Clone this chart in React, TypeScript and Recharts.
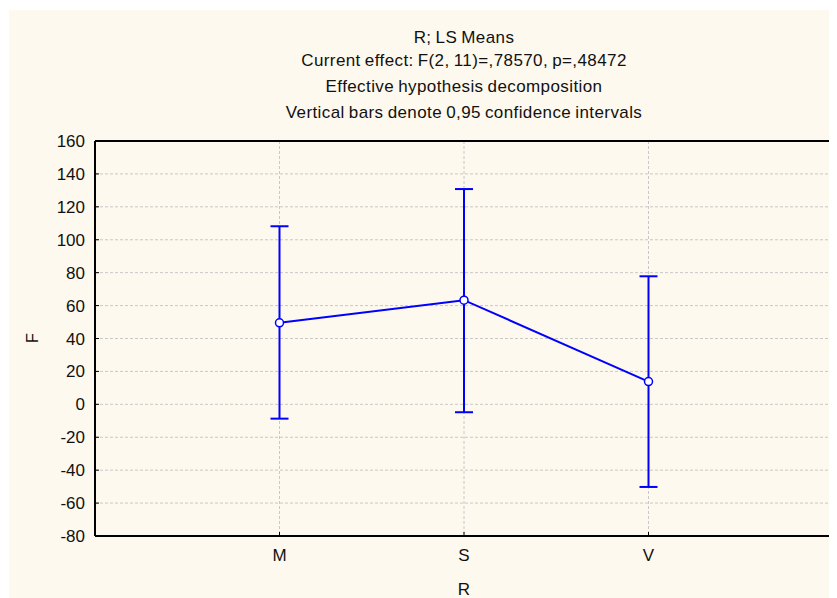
import React from 'react';
import { LineChart, Line, XAxis, YAxis, CartesianGrid, ErrorBar } from 'recharts';

const categories = ['M', 'S', 'V'];
const means = [49.5, 63.3, 13.8];
const upper = [108.2, 130.8, 77.8];
const lower = [-8.7, -4.8, -50.2];
const yTicks = [-80, -60, -40, -20, 0, 20, 40, 60, 80, 100, 120, 140, 160];
const titleLines = [
  'R; LS Means',
  'Current effect: F(2, 11)=,78570, p=,48472',
  'Effective hypothesis decomposition',
  'Vertical bars denote 0,95 confidence intervals',
];
const xTitle = 'R';
const yTitle = 'F';

const data = categories.map((c, i) => ({
  x: i + 1,
  name: c,
  mean: means[i],
  err: [means[i] - lower[i], upper[i] - means[i]],
}));

const FONT = '"Liberation Sans", Arial, sans-serif';
const BLUE = '#0000FF';
const titleCenters = [28, 51, 77, 103];

export default function App() {
  return (
    <div style={{ paddingTop: 2, paddingLeft: 1, height: 588 }}>
      <div
        style={{
          position: 'relative',
          width: 828,
          height: 588,
          background: '#FEF9EE',
          fontFamily: FONT,
        }}
      >
        <LineChart
          width={828}
          height={588}
          data={data}
          margin={{ top: 130, right: 3, bottom: 0, left: 0 }}
        >
          <CartesianGrid stroke="#c8c8c8" strokeDasharray="3 2" />
          <XAxis
            dataKey="x"
            type="number"
            domain={[0, 4]}
            ticks={[1, 2, 3]}
            tickFormatter={(v: number) => categories[v - 1]}
            height={62}
            tickSize={-4}
            tickMargin={17}
            axisLine={{ stroke: '#000', strokeWidth: 2 }}
            tickLine={{ stroke: '#000' }}
            tick={{ fill: '#111', fontSize: 17, fontFamily: FONT }}
            allowDataOverflow
          />
          <XAxis
            xAxisId="top"
            dataKey="x"
            type="number"
            orientation="top"
            domain={[0, 4]}
            ticks={[1, 2, 3]}
            height={1}
            tickSize={-4}
            tick={false}
            axisLine={{ stroke: '#000', strokeWidth: 2 }}
            tickLine={{ stroke: '#000' }}
          />
          <YAxis
            type="number"
            domain={[-80, 160]}
            ticks={yTicks}
            width={86}
            tickSize={-4}
            tickMargin={14}
            axisLine={{ stroke: '#000', strokeWidth: 2 }}
            tickLine={{ stroke: '#000' }}
            tick={{ fill: '#111', fontSize: 17, fontFamily: FONT }}
            interval={0}
            allowDataOverflow
          />
          <YAxis
            yAxisId="right"
            orientation="right"
            type="number"
            domain={[-80, 160]}
            ticks={yTicks}
            width={1}
            tickSize={-4}
            tick={false}
            axisLine={{ stroke: '#000', strokeWidth: 2 }}
            tickLine={{ stroke: '#000' }}
            interval={0}
          />
          <Line
            dataKey="mean"
            stroke={BLUE}
            strokeWidth={2}
            isAnimationActive={false}
            dot={{ r: 4, fill: '#fff', stroke: BLUE, strokeWidth: 1.5 }}
            activeDot={false}
          >
            <ErrorBar dataKey="err" direction="y" width={9} stroke={BLUE} strokeWidth={2} />
          </Line>
        </LineChart>
        {titleLines.map((t, i) => (
          <div
            key={i}
            style={{
              position: 'absolute',
              left: 86,
              width: 738,
              top: titleCenters[i] - 10,
              lineHeight: '20px',
              textAlign: 'center',
              fontSize: 17,
              letterSpacing: 0.4,
              wordSpacing: -1,
              color: '#111',
              whiteSpace: 'nowrap',
            }}
          >
            {t}
          </div>
        ))}
        <div
          style={{
            position: 'absolute',
            left: 14,
            top: 318,
            width: 20,
            height: 20,
            lineHeight: '20px',
            textAlign: 'center',
            fontSize: 16,
            transform: 'rotate(-90deg)',
            color: '#111',
          }}
        >
          {yTitle}
        </div>
        <div
          style={{
            position: 'absolute',
            left: 445,
            top: 570,
            width: 20,
            lineHeight: '20px',
            textAlign: 'center',
            fontSize: 17,
            color: '#111',
          }}
        >
          {xTitle}
        </div>
      </div>
    </div>
  );
}
